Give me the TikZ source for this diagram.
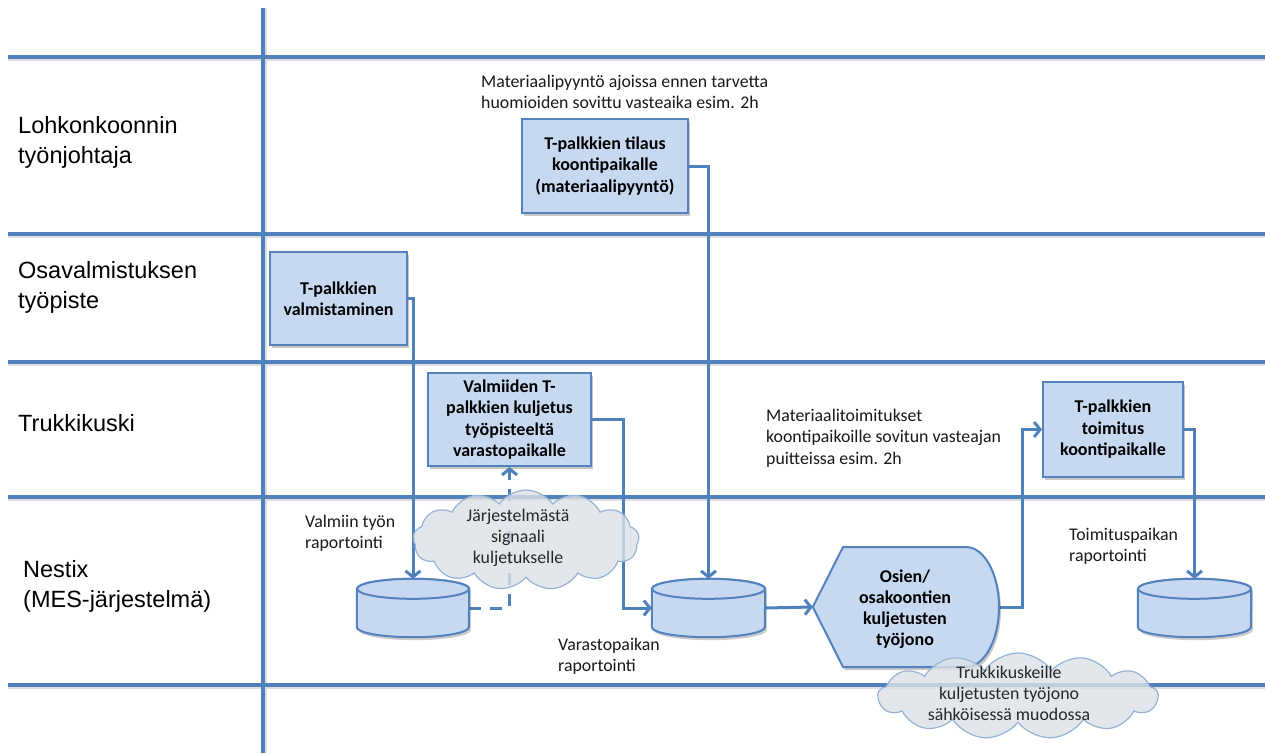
\documentclass[tikz,border=0pt]{standalone}
\usepackage{fontspec}
\setmainfont{Carlito}
\newfontfamily\lanefont{Liberation Sans}
\usetikzlibrary{arrows.meta,shapes.symbols,calc}
\definecolor{laneblue}{RGB}{79,129,189}
\definecolor{boxfill}{RGB}{198,217,241}
\definecolor{boxline}{RGB}{84,130,190}
\definecolor{cloudfill}{RGB}{220,226,230}
\definecolor{cloudline}{RGB}{150,178,212}
\begin{document}
\begin{tikzpicture}[x=1pt,y=-1pt,
  lane/.style={draw=laneblue,line width=3.2pt},
  laneshadow/.style={draw=black!13,line width=2pt},
  flow/.style={draw=laneblue,line width=3pt,-{Straight Barb[length=6pt,width=15pt]}},
  dflow/.style={flow,dash pattern=on 12pt off 9pt},
  boxshadow/.style={preaction={fill=black,fill opacity=0.22,transform canvas={shift={(2pt,-3pt)}}}},
  procbox/.style={rectangle,draw=boxline,line width=2pt,fill=boxfill,align=center,boxshadow,
    font=\bfseries\fontsize{18}{21.5}\selectfont,inner sep=0pt},
  lanelabel/.style={anchor=west,align=left,inner sep=0pt,font=\lanefont\fontsize{23.5}{30}\selectfont},
  note/.style={anchor=west,align=left,inner sep=0pt,font=\fontsize{17.8}{21.5}\selectfont,text=black!90},
  dbnode/.style={rectangle,inner sep=0pt,minimum width=112pt,minimum height=58pt},
  dbshape/.style={draw=boxline,line width=2pt,fill=boxfill},
  cloudnode/.style={cloud,cloud puffs=13,cloud puff arc=110,draw=cloudline,line width=1.2pt,
    fill=cloudfill,fill opacity=0.8,inner sep=0pt},
  cloudtext/.style={align=center,inner sep=0pt,font=\fontsize{17.8}{21}\selectfont,text=black!85}
]
\useasboundingbox (0,0) rectangle (1265,753);
\fill[white] (0,0) rectangle (1265,753);

% lanes
\coordinate (vtop) at (263,8);
\coordinate (vbot) at (263,753);
\foreach \y in {57,234,362,497,685}{
  \draw[laneshadow] (8,\y+2.5) -- (1265,\y+2.5);
}
\draw[laneshadow] (265.5,8) -- (265.5,753);
\draw[lane] (vtop) -- (vbot);
\foreach \y in {57,234,362,497,685}{
  \draw[lane] (8,\y) -- (1265,\y);
}

% lane labels
\node[lanelabel] (l1) at (18,142) {Lohkonkoonnin\\työnjohtaja};
\node[lanelabel] (l2) at (18,287) {Osavalmistuksen\\työpiste};
\node[lanelabel] (l3) at (18,423) {Trukkikuski};
\node[lanelabel] (l4) at (23,586) {Nestix\\(MES-järjestelmä)};

% process boxes
\node[procbox,minimum width=166pt,minimum height=94pt] (b1) at (605,166)
  {T-palkkien tilaus\\koontipaikalle\\(materiaalipyyntö)};
\node[procbox,minimum width=137pt,minimum height=93pt] (b2) at (338.5,298.5)
  {T-palkkien\\valmistaminen};
\node[procbox,minimum width=163pt,minimum height=93pt] (b3) at (509.5,419.5)
  {Valmiiden T-\\palkkien kuljetus\\työpisteeltä\\varastopaikalle};
\node[procbox,minimum width=140pt,minimum height=95pt] (b4) at (1113,429.5)
  {T-palkkien\\toimitus\\koontipaikalle};

% database nodes (anchors)
\node[dbnode] (c1) at (413,608) {};
\node[dbnode,minimum width=113pt] (c2) at (708.5,608) {};
\node[dbnode,minimum width=113pt] (c3) at (1194.5,608) {};

% queue node (anchor)
\node[rectangle,inner sep=0pt,minimum width=187pt,minimum height=120pt] (q) at (906.5,607) {};

% connectors
\draw[flow] (b1.east) -| (c2.north);
\draw[flow] (b2.east) -| (c1.north);
\draw[flow] (b3.east) -- ++(31,0) |- (c2.west);
\draw[dflow] (c1.east) -| (b3.south);
\draw[flow] (c2.east) -- (q.west);
\draw[flow] (q.east) -- ++(22,0) |- (b4.west);
\draw[flow] (b4.east) -| (c3.north);

% draw cylinders
\foreach \c/\w in {c1/56,c2/56.5,c3/56.5}{
  \fill[black,opacity=0.2,transform canvas={shift={(2pt,-3pt)}}]
    ($(\c.north west)+(0,10)$) -- ($(\c.south west)+(0,-10)$)
    arc[start angle=180,end angle=0,x radius=\w,y radius=10]
    -- ($(\c.north east)+(0,10)$)
    arc[start angle=0,end angle=-180,x radius=\w,y radius=10] -- cycle;
  \draw[dbshape]
    ($(\c.north west)+(0,10)$) -- ($(\c.south west)+(0,-10)$)
    arc[start angle=180,end angle=0,x radius=\w,y radius=10]
    -- ($(\c.north east)+(0,10)$)
    arc[start angle=0,end angle=-180,x radius=\w,y radius=10] -- cycle;
  \draw[dbshape] ($(\c.north)+(0,10)$) ellipse[x radius=\w,y radius=10];
}

% queue display shape
\draw[draw=boxline,line width=2pt,fill=boxfill,boxshadow]
  (q.west) -- (843,547) -- (966,547)
  arc[start angle=90,end angle=-90,x radius=33pt,y radius=60pt]
  -- (843,667) -- cycle;
\node[align=center,font=\bfseries\fontsize{18}{21}\selectfont,inner sep=0pt] (qt) at (905,609)
  {Osien/\\osakoontien\\kuljetusten\\työjono};

% notes
\node[note] (n1) at (481,92) {Materiaalipyyntö ajoissa ennen tarvetta\\huomioiden sovittu vasteaika esim. 2h};
\node[note] (n2) at (305,533) {Valmiin työn\\raportointi};
\node[note] (n3) at (766,438) {Materiaalitoimitukset\\koontipaikoille sovitun vasteajan\\puitteissa esim. 2h};
\node[note] (n4) at (1069,546) {Toimituspaikan\\raportointi};
\node[note] (n5) at (558,656) {Varastopaikan\\raportointi};

% clouds
\node[cloudnode,aspect=2.2,minimum width=226pt,minimum height=100pt] (k1) at (526,540) {};
\node[cloudtext] (k1t) at (518,538) {Järjestelmästä\\signaali\\kuljetukselle};
\node[cloudnode,aspect=3.2,minimum width=280pt,minimum height=86pt] (k2) at (1018,696) {};
\node[cloudtext] (k2t) at (1009,693) {Trukkikuskeille\\kuljetusten työjono\\sähköisessä muodossa};
\end{tikzpicture}
\end{document}
